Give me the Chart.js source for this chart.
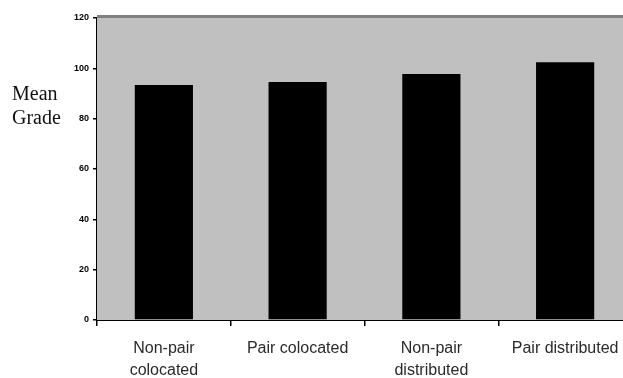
<!DOCTYPE html>
<html>
<head>
<meta charset="utf-8">
<script src="https://cdn.jsdelivr.net/npm/chart.js@4/dist/chart.umd.min.js"></script>
<style>
    html, body { margin: 0; padding: 0; background: #fff; overflow: hidden; }
    #wrap { position: relative; width: 632px; height: 378px; }
</style>
</head>
<body>
<div id="wrap"><canvas id="gradeChart"></canvas></div>
<script>
// ===== DATA =====
const categories = [
    ['Non-pair', 'colocated'],
    'Pair colocated',
    ['Non-pair', 'distributed'],
    'Pair distributed'
];
const meanGrades = [93.4, 94.6, 97.7, 102.4];
const yTicks = [0, 20, 40, 60, 80, 100, 120];
const yTitle = ['Mean', 'Grade'];

// ===== PLOT BACKGROUND + SIDE TITLE =====
const plotFrame = {
    id: 'plotFrame',
    beforeDatasetsDraw(chart) {
        const { ctx, chartArea: a } = chart;
        ctx.save();
        ctx.fillStyle = '#c0c0c0';
        ctx.fillRect(a.left, a.top, a.right - a.left, a.bottom - a.top);
        // grey frame line along the top
        ctx.fillStyle = '#808080';
        ctx.fillRect(a.left, a.top - 3, a.right - a.left, 3);
        ctx.restore();
    },
    afterDraw(chart) {
        const { ctx } = chart;
        ctx.save();
        ctx.fillStyle = '#111';
        ctx.font = '20px "Liberation Serif", "DejaVu Serif", serif';
        ctx.textBaseline = 'alphabetic';
        ctx.fillText(yTitle[0], 12, 100);
        ctx.fillText(yTitle[1], 12, 124);
        ctx.restore();
    }
};

const chart = new Chart(document.getElementById('gradeChart'), {
    type: 'bar',
    data: {
        labels: categories,
        datasets: [{
            data: meanGrades,
            backgroundColor: '#000',
            borderWidth: 0,
            barPercentage: 0.435,
            categoryPercentage: 1
        }]
    },
    options: {
        responsive: true,
        maintainAspectRatio: false,
        animation: false,
        layout: { padding: { top: 18, left: 0, right: 0, bottom: 0 } },
        plugins: {
            legend: { display: false },
            tooltip: { enabled: false }
        },
        scales: {
            x: {
                offset: true,
                grid: {
                    offset: true,
                    drawOnChartArea: false,
                    drawTicks: true,
                    tickLength: 6,
                    color: '#000',
                    lineWidth: 1.5
                },
                border: { color: '#000', width: 2 },
                ticks: {
                    color: '#2a2a2a',
                    font: { family: 'Liberation Sans, Arial, sans-serif', size: 16, lineHeight: 1.4 },
                    padding: 11,
                    maxRotation: 0,
                    autoSkip: false
                },
                afterFit(s) { s.height = 58; }
            },
            y: {
                min: 0,
                max: 120,
                afterBuildTicks(s) { s.ticks = yTicks.map(v => ({ value: v })); },
                grid: {
                    drawOnChartArea: false,
                    drawTicks: true,
                    tickLength: 4,
                    color: '#000',
                    lineWidth: 1.5
                },
                border: { color: '#000', width: 2 },
                ticks: {
                    color: '#000',
                    font: { family: 'Liberation Sans, Arial, sans-serif', size: 9, weight: 'bold' },
                    padding: 4
                },
                afterFit(s) { s.width = 97; }
            }
        }
    },
    plugins: [plotFrame]
});
</script>
</body>
</html>
